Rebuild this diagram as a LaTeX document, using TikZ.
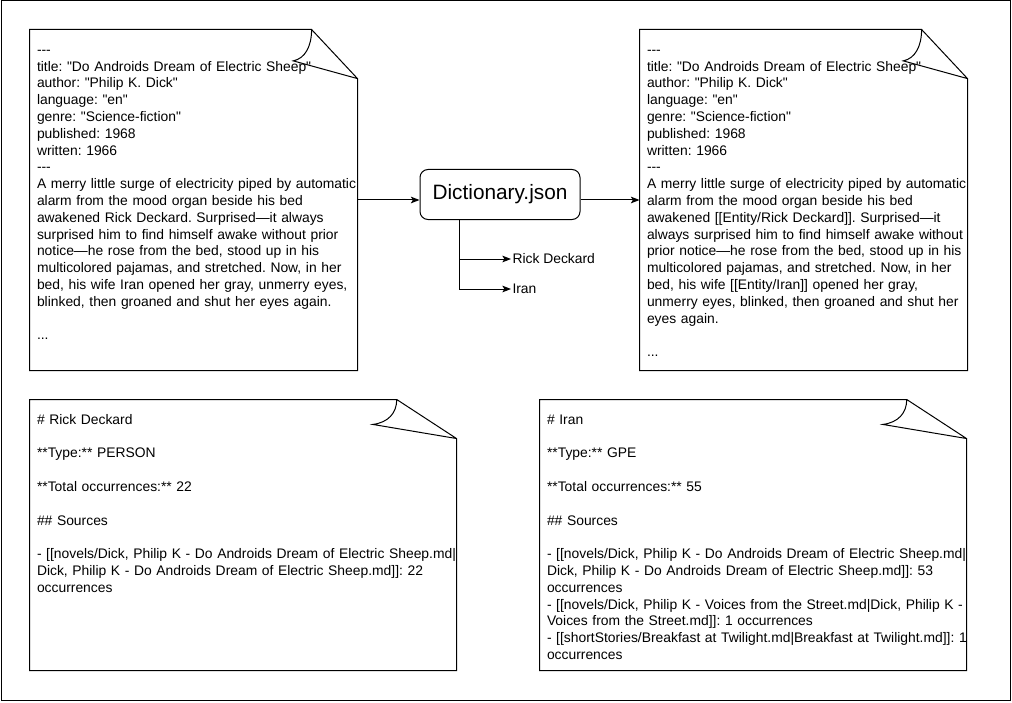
\documentclass[tikz,border=0pt]{standalone}
\usepackage{fontspec}
\setmainfont{Liberation Sans}[Ligatures=TeXOff]
\usetikzlibrary{arrows.meta, positioning, fit, calc}
\tikzset{
        page/.style={inner sep=0pt, draw=none},
        pagetext/.style={anchor=base west, inner sep=0pt, text width=330pt, align=left, font=\fontsize{10.4pt}{12.6pt}\selectfont\frenchspacing},
        hub/.style={draw, rounded corners=6pt, minimum width=120pt, minimum height=37.5pt, font=\fontsize{15.6pt}{18pt}\selectfont},
        tag/.style={anchor=west, inner sep=0.75pt, font=\fontsize{10.4pt}{12.6pt}\selectfont},
        line/.style={-{Stealth[length=6.5pt, width=5pt, inset=1.5pt]}}
    }
% outline of a page with a curled corner, drawn round a node
\newcommand\drawpage[1]{%
    \draw let \p1=(#1.north west), \p2=(#1.south east),
        \n1={\x2-\x1}, \n2={\y1-\y2} in
        (\p1) -- ({\x2-0.14*\n1},\y1) -- (\x2,{\y1-0.144*\n2}) -- (\p2) -- (\x1,\y2) -- cycle
        ({\x2-0.14*\n1},\y1) .. controls ({\x2-0.14*\n1},{\y1-0.05*\n2}) and ({\x2-0.16*\n1},{\y1-0.085*\n2}) .. ({\x2-0.196*\n1},{\y1-0.092*\n2}) -- (\x2,{\y1-0.144*\n2});
}
\begin{document}
\begin{tikzpicture}[x=0.75pt, y=-0.75pt, line width=0.75pt]
    \useasboundingbox (0,0) rectangle (1012,702);
    \draw (1,1) rectangle (1010,700);

    % source note and tagged note
    \node[page, fit={(30,30) (357,370)}] (novel) {};
    \node[page, fit={(640,30) (967,370)}] (tagged) {};
    \drawpage{novel}
    \drawpage{tagged}

    \node[pagetext] (noveltext) at ([shift={(7,24.8)}]novel.north west) {-{}-{}-\\
        title: "Do Androids Dream of Electric Sheep"\\
        author: "Philip K. Dick"\\
        language: "en"\\
        genre: "Science-fiction"\\
        published: 1968\\
        written: 1966\\
        -{}-{}-\\
        A merry little surge of electricity piped by automatic\\
        alarm from the mood organ beside his bed\\
        awakened Rick Deckard. Surprised—it always\\
        surprised him to find himself awake without prior\\
        notice—he rose from the bed, stood up in his\\
        multicolored pajamas, and stretched. Now, in her\\
        bed, his wife Iran opened her gray, unmerry eyes,\\
        blinked, then groaned and shut her eyes again.\\[12.6pt]
        ...};
    \node[pagetext] (taggedtext) at ([shift={(7,24.8)}]tagged.north west) {-{}-{}-\\
        title: "Do Androids Dream of Electric Sheep"\\
        author: "Philip K. Dick"\\
        language: "en"\\
        genre: "Science-fiction"\\
        published: 1968\\
        written: 1966\\
        -{}-{}-\\
        A merry little surge of electricity piped by automatic\\
        alarm from the mood organ beside his bed\\
        awakened [[Entity/Rick Deckard]]. Surprised—it\\
        always surprised him to find himself awake without\\
        prior notice—he rose from the bed, stood up in his\\
        multicolored pajamas, and stretched. Now, in her\\
        bed, his wife [[Entity/Iran]] opened her gray,\\
        unmerry eyes, blinked, then groaned and shut her\\
        eyes again.\\[12.6pt]
        ...};

    % dictionary and extracted entities
    \node[hub] (dict) at (500,194.5) {Dictionary.json};
    \node[tag] (rick) at (511,259) {Rick Deckard};
    \node[tag] (iran) at (511,289) {Iran};

    \draw[line] (novel.east) -- (novel.east -| dict.west);
    \draw[line] (dict.east |- tagged.west) -- (tagged.west);
    \draw[line] ($(dict.south west)!0.25!(dict.south east)$) |- (rick.west);
    \draw[line] ($(dict.south west)!0.25!(dict.south east)$) |- (iran.west);

    % entity notes
    \node[page, fit={(30,400) (456,670)}] (rickpage) {};
    \node[page, fit={(540,400) (966,670)}] (iranpage) {};
    \drawpage{rickpage}
    \drawpage{iranpage}

    \node[pagetext] (ricktext) at ([shift={(7,24.8)}]rickpage.north west) {\# Rick Deckard\\[12.6pt]
        **Type:** PERSON\\[12.6pt]
        **Total occurrences:** 22\\[12.6pt]
        \#\# Sources\\[12.6pt]
        - [[novels/Dick, Philip K - Do Androids Dream of Electric Sheep.md|\\
        Dick, Philip K - Do Androids Dream of Electric Sheep.md]]: 22\\
        occurrences};
    \node[pagetext] (irantext) at ([shift={(7,24.8)}]iranpage.north west) {\# Iran\\[12.6pt]
        **Type:** GPE\\[12.6pt]
        **Total occurrences:** 55\\[12.6pt]
        \#\# Sources\\[12.6pt]
        - [[novels/Dick, Philip K - Do Androids Dream of Electric Sheep.md|\\
        Dick, Philip K - Do Androids Dream of Electric Sheep.md]]: 53\\
        occurrences\\
        - [[novels/Dick, Philip K - Voices from the Street.md|Dick, Philip K -\\
        Voices from the Street.md]]: 1 occurrences\\
        - [[shortStories/Breakfast at Twilight.md|Breakfast at Twilight.md]]: 1\\
        occurrences};

\end{tikzpicture}
\end{document}
